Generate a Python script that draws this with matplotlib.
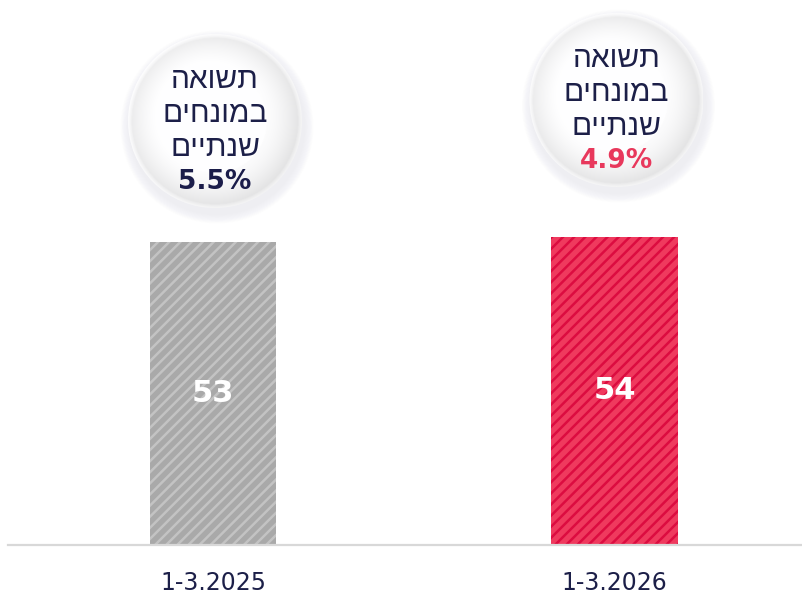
import numpy as np
import matplotlib
matplotlib.use('Agg')
import matplotlib.pyplot as plt
from matplotlib.patches import Circle

# data
periods = ['1-3.2025', '1-3.2026']
values = [53, 54]
returns = ['5.5%', '4.9%']
bubble_lines = ['תשואה', 'במונחים', 'שנתיים']

bar_colors = ['#a9a9a9', '#ef3a5e']
hatch_colors = ['#c3c3c3', '#dc0c40']
pct_colors = ['#1b1d4a', '#e8385c']
navy = '#1c1f48'

plt.rcParams['font.family'] = ['DejaVu Sans']
plt.rcParams['hatch.linewidth'] = 1.8

W, H = 803, 596
fig = plt.figure(figsize=(W / 100, H / 100), dpi=100)
fig.patch.set_facecolor('white')

# main axes: baseline at y=545px, bar centers at 213 / 614.5 px
x0 = (8 - 213) / 401.5
x1 = (803 - 213) / 401.5
ax = fig.add_axes([8 / W, 51 / H, 1 - 8 / W, 545 / H])
ax.set_xlim(x0, x1)
ax.set_ylim(0, 545 / 5.71)

xs = np.arange(len(values))
for i, v in enumerate(values):
    ax.bar(xs[i], v, width=0.314, color=bar_colors[i], hatch='///',
           edgecolor=hatch_colors[i], linewidth=0, zorder=2)
    ax.text(xs[i], v / 2, str(v), ha='center', va='center', color='white',
            fontsize=22, fontweight='bold', zorder=3)

for s in ['top', 'right', 'left']:
    ax.spines[s].set_visible(False)
ax.spines['bottom'].set_color('#d8d8d8')
ax.spines['bottom'].set_linewidth(1.6)
ax.set_yticks([])
ax.set_xticks(xs)
ax.set_xticklabels(periods, fontsize=17, color=navy)
ax.tick_params(axis='x', length=0, pad=19)

# overlay in pixel coords for the bubbles
ov = fig.add_axes([0, 0, 1, 1], zorder=5)
ov.set_xlim(0, W)
ov.set_ylim(H, 0)
ov.axis('off')

centers_y = [121, 100]
r = 87
fig.canvas.draw()
for i in range(len(values)):
    px = ax.transData.transform((xs[i], 0))[0] + 2
    cy = centers_y[i]
    # soft shadow
    for k in range(12, 0, -1):
        ov.add_patch(Circle((px + 2, cy + 6), r + k * 0.8, color='#a0a0a8',
                            alpha=0.012, lw=0, zorder=1))
    # radial shading
    n = 240
    gx, gy = np.meshgrid(np.linspace(-1, 1, n), np.linspace(-1, 1, n))
    d = np.sqrt(gx ** 2 + gy ** 2)
    val = np.where(d < 0.6, 1.0, 1.0 - 0.085 * ((d - 0.6) / 0.36) ** 1.5)
    val = np.where(d > 0.96, 0.93 + (d - 0.96) * 1.2, val)
    val = val + 0.015 * (-gx - gy) * (d > 0.6)
    val = np.clip(val, 0, 1)
    rgb = np.dstack([val * 0.997, val * 0.997, val])
    im = ov.imshow(rgb, extent=[px - r, px + r, cy + r, cy - r], zorder=2,
                   interpolation='bilinear')
    clip = Circle((px, cy), r, transform=ov.transData)
    im.set_clip_path(clip)

    offs = [-41, -7, 27]
    for line, dy in zip(bubble_lines, offs):
        ov.text(px, cy + dy, line[::-1], ha='center', va='center',
                fontsize=21.5, color=navy, zorder=3,
                family=['Liberation Sans', 'DejaVu Sans'])
    ov.text(px, cy + 61, returns[i], ha='center', va='center', fontsize=19,
            fontweight='bold', color=pct_colors[i], zorder=3)

fig.savefig('out.png', dpi=100, facecolor='white')
